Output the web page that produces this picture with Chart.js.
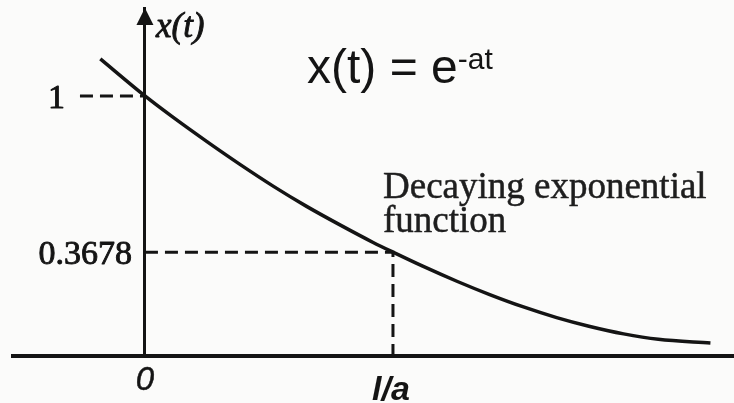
<!DOCTYPE html>
<html>
<head>
<meta charset="utf-8">
<script src="https://cdn.jsdelivr.net/npm/chart.js@4.4.1/dist/chart.umd.min.js"></script>
<style>
  html, body { margin: 0; padding: 0; background: #fbfbfa; }
  #wrap { width: 734px; height: 403px; }
</style>
</head>
<body>
<div id="wrap"><canvas id="expChart" width="734" height="403"></canvas></div>
<script>
// time in units of 1/a, and the value of x(t) along the curve
const times = [-0.18, 0, 0.11, 0.25, 0.38, 0.52, 0.65, 0.79, 0.92, 1.0, 1.12, 1.26, 1.39, 1.52, 1.66, 1.79, 1.93, 2.07, 2.28];
const values = [1.15, 1.0, 0.916, 0.815, 0.725, 0.633, 0.554, 0.476, 0.407, 0.3678, 0.311, 0.249, 0.196, 0.148, 0.103, 0.068, 0.037, 0.015, 0.0];

// marked levels on the vertical axis
const levelValues = [1, 0.3678];
const levelLabels = ['1', '0.3678'];

// marked instants on the time axis
const tickValues = [0, 1];
const tickLabels = ['0', 'l/a'];

const ink = '#141414';
const Y_MIN = -0.0526;

// fill + thin stroke so the printed text keeps some weight
function inkText(ctx, text, x, y, weight) {
    ctx.fillText(text, x, y);
    if (weight) {
        ctx.lineWidth = weight;
        ctx.strokeText(text, x, y);
    }
}

// Draws the arrow head, axis name, level/tick labels and the captions
const annotations = {
    id: 'annotations',
    afterDraw(chart) {
        const { ctx, chartArea, scales: { x, y } } = chart;
        const axisX = x.getPixelForValue(0);
        ctx.save();
        ctx.fillStyle = ink;
        ctx.strokeStyle = ink;
        ctx.lineJoin = 'round';

        // arrow head on top of the vertical axis
        ctx.beginPath();
        ctx.moveTo(axisX, chartArea.top);
        ctx.lineTo(axisX - 8.5, chartArea.top + 17);
        ctx.lineTo(axisX + 8.5, chartArea.top + 17);
        ctx.closePath();
        ctx.fill();

        ctx.textBaseline = 'alphabetic';

        // axis name
        ctx.font = 'italic 35px "Liberation Serif"';
        ctx.textAlign = 'left';
        inkText(ctx, 'x(t)', axisX + 11, 37, 0.9);

        // level labels, "1" sits further out because its guide runs left
        ctx.font = '34px "Liberation Serif"';
        ctx.textAlign = 'right';
        const levelGap = [80, 13];
        levelValues.forEach((v, i) => {
            inkText(ctx, levelLabels[i], axisX - levelGap[i], y.getPixelForValue(v) + 12, 0.9);
        });

        // time tick labels
        ctx.textAlign = 'center';
        ctx.font = 'italic 33px "Liberation Sans"';
        inkText(ctx, tickLabels[0], x.getPixelForValue(tickValues[0]), 390, 0.5);
        ctx.font = 'italic bold 34px "Liberation Sans"';
        inkText(ctx, tickLabels[1], x.getPixelForValue(tickValues[1]) - 2, 400, 0);

        // formula
        ctx.textAlign = 'left';
        ctx.font = '48px "Liberation Sans"';
        const base = 'x(t) = e';
        ctx.fillText(base, 307, 83);
        const w = ctx.measureText(base).width;
        ctx.font = '30px "Liberation Sans"';
        ctx.fillText('-at', 307 + w, 69);

        // caption
        ctx.font = '37px "Liberation Serif"';
        ctx.fillStyle = '#1e1e1e';
        ctx.strokeStyle = '#1e1e1e';
        inkText(ctx, 'Decaying exponential', 383, 198, 0.5);
        inkText(ctx, 'function', 383, 232, 0.5);

        ctx.restore();
    }
};

const ctx = document.getElementById('expChart').getContext('2d');
new Chart(ctx, {
    type: 'line',
    data: {
        datasets: [
            {
                // the decaying curve
                data: times.map((t, i) => ({ x: t, y: values[i] })),
                borderColor: ink,
                borderWidth: 3.5,
                pointRadius: 0,
                cubicInterpolationMode: 'monotone'
            },
            {
                // guide from the "1" label to the axis
                data: [{ x: -0.262, y: levelValues[0] }, { x: tickValues[0], y: levelValues[0] }],
                borderColor: ink,
                borderWidth: 3,
                borderDash: [13, 7],
                pointRadius: 0
            },
            {
                // guide through x(1/a) = 0.3678
                data: [
                    { x: tickValues[0], y: levelValues[1] },
                    { x: tickValues[1], y: levelValues[1] },
                    { x: tickValues[1], y: Y_MIN }
                ],
                borderColor: ink,
                borderWidth: 3,
                borderDash: [13, 7],
                pointRadius: 0
            }
        ]
    },
    options: {
        responsive: false,
        animation: false,
        layout: { padding: { left: 13, right: 0, top: 8, bottom: 47 } },
        plugins: {
            legend: { display: false },
            tooltip: { enabled: false }
        },
        scales: {
            x: {
                type: 'linear',
                min: -0.532,
                max: 2.375,
                grid: { display: false },
                ticks: { display: false },
                border: { display: true, color: ink, width: 4 },
                afterFit: s => { s.height = 0; }
            },
            y: {
                type: 'linear',
                position: { x: 0 },
                min: Y_MIN,
                max: 1.356,
                grid: { display: false },
                ticks: { display: false },
                border: { display: true, color: ink, width: 3 },
                afterFit: s => { s.width = 0; }
            }
        }
    },
    plugins: [annotations]
});
</script>
</body>
</html>
